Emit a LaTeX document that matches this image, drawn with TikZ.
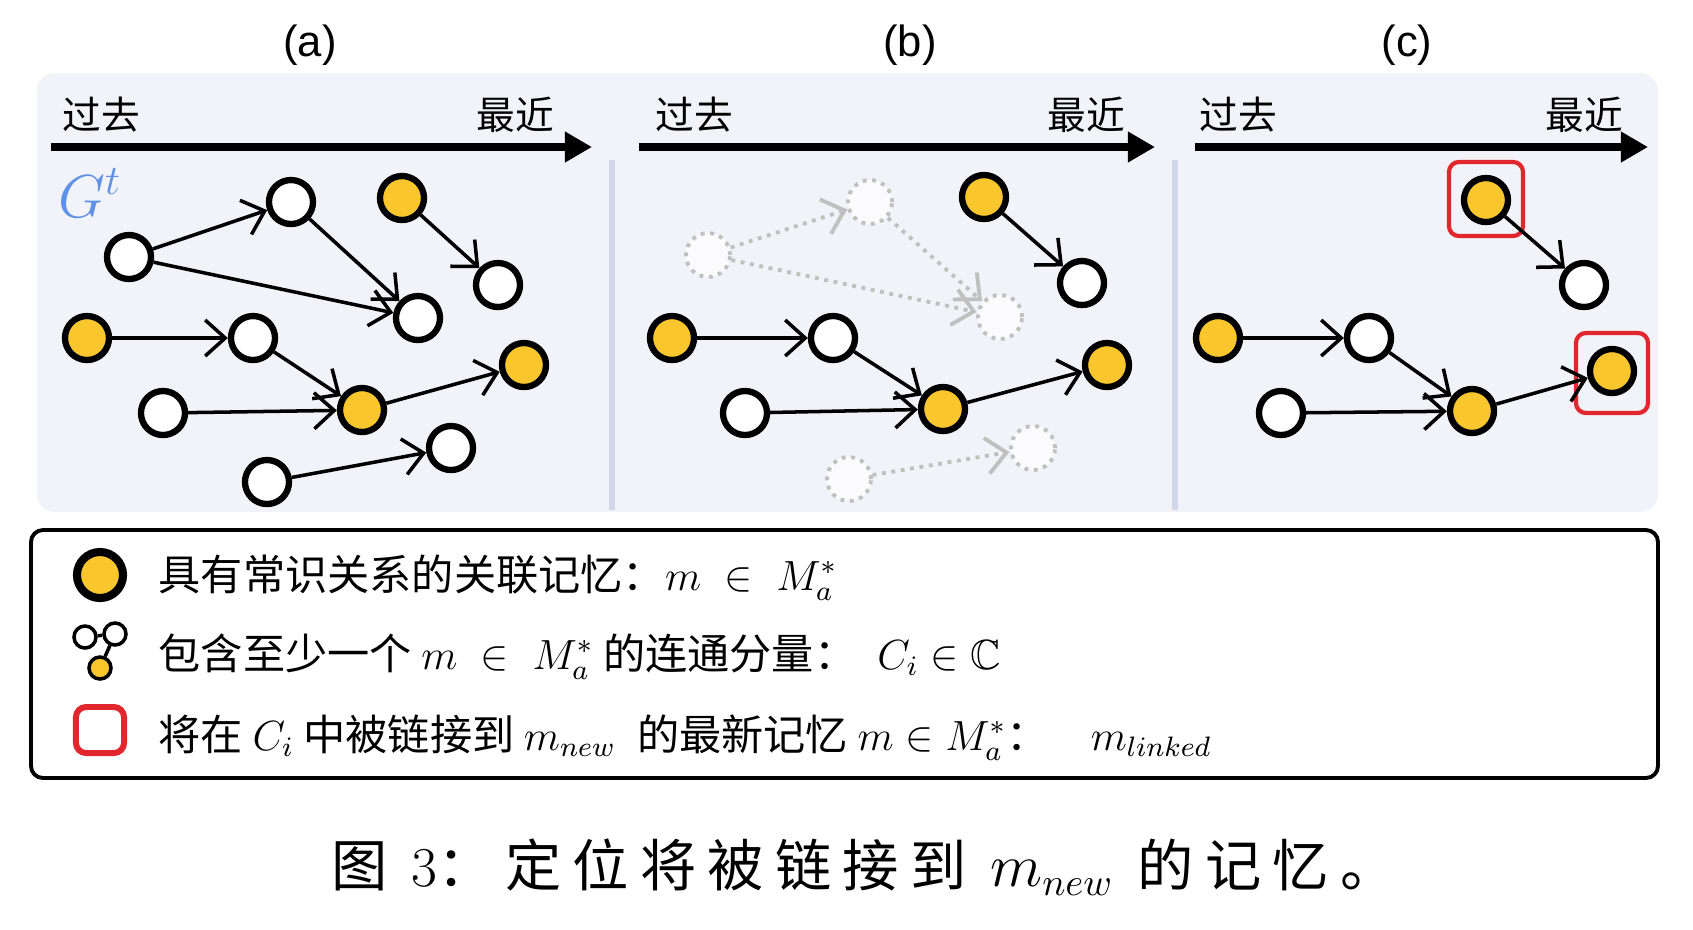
\documentclass[tikz,border=0pt]{standalone}
\usepackage{amssymb}
\usepackage{fontspec}
\usetikzlibrary{arrows.meta}

\newfontfamily\cjk{Noto Sans CJK SC}
\newfontfamily\capfont[LetterSpace=20]{Noto Sans CJK SC}
\newfontfamily\titlefont{Liberation Sans}

\definecolor{memyellow}{RGB}{250,198,46}
\definecolor{panelbg}{RGB}{241,243,248}
\definecolor{divider}{RGB}{208,215,232}
\definecolor{gblue}{RGB}{95,145,230}
\definecolor{linkred}{RGB}{225,38,45}
\definecolor{ghostgray}{RGB}{192,192,192}

\begin{document}
\begin{tikzpicture}[x=0.01cm, y=-0.01cm,
    >={Straight Barb[length=2mm, width=3.6mm]},
    mem/.style={circle, draw=black, line width=1.8pt, fill=white, minimum size=4.4mm, inner sep=0pt},
    memkey/.style={mem, fill=memyellow},
    ghost/.style={circle, draw=ghostgray, line width=1.1pt, dash pattern=on 1.1pt off 1.6pt, fill=white!70!panelbg, minimum size=4.4mm, inner sep=0pt},
    memlink/.style={->, line width=1pt},
    ghostlink/.style={->, draw=ghostgray, line width=1.1pt, dash pattern=on 1.1pt off 1.6pt},
    timeline/.style={-{Triangle[length=2.7mm, width=2.9mm]}, line width=2pt},
    timetext/.style={font=\cjk\fontsize{11pt}{13pt}\selectfont, anchor=base, inner sep=0pt},
    linkbox/.style={draw=linkred, line width=1.2pt, rounded corners=1mm, minimum width=7.4mm, minimum height=7.4mm, inner sep=0pt},
    legtext/.style={font=\cjk\fontsize{12pt}{15pt}\selectfont, anchor=base west, inner sep=0pt}]

    \useasboundingbox (0,0) rectangle (1693,929);
    \fill[white] (0,0) rectangle (1693,929);

    % --- 1. 背景と区切り線 ---
    \fill[panelbg, rounded corners=1.8mm] (37,73) rectangle (1658,512);
    \draw[divider, line width=1.6pt] (612,160) -- (612,510);
    \draw[divider, line width=1.6pt] (1175,160) -- (1175,510);

    % 小見出し (a) (b) (c)
    \node[anchor=base, font=\titlefont\fontsize{12.4pt}{14pt}\selectfont] (titleA) at (310,56) {(a)};
    \node[anchor=base, font=\titlefont\fontsize{12.4pt}{14pt}\selectfont] (titleB) at (910,56) {(b)};
    \node[anchor=base, font=\titlefont\fontsize{12.4pt}{14pt}\selectfont] (titleC) at (1407,56) {(c)};

    % --- 2. 時間軸 ---
    \coordinate (tA0) at (51,147);   \coordinate (tA1) at (592,147);
    \coordinate (tB0) at (639,147);  \coordinate (tB1) at (1155,147);
    \coordinate (tC0) at (1195,147); \coordinate (tC1) at (1648,147);
    \draw[timeline] (tA0) -- (tA1);
    \draw[timeline] (tB0) -- (tB1);
    \draw[timeline] (tC0) -- (tC1);

    \node[timetext] (pastA) at (101,129) {过去};
    \node[timetext] (recentA) at (515,129) {最近};
    \node[timetext] (pastB) at (694,129) {过去};
    \node[timetext] (recentB) at (1086,129) {最近};
    \node[timetext] (pastC) at (1238,129) {过去};
    \node[timetext] (recentC) at (1584,129) {最近};

    % --- 3. (a) 記憶グラフ G^t ---
    \node[text=gblue, font=\fontsize{16.5pt}{18pt}\selectfont] (gt) at (90,193) {$G^t$};

    \node[mem]    (a1)  at (129,257) {};
    \node[mem]    (a2)  at (291,202) {};
    \node[memkey] (a3)  at (402,198) {};
    \node[mem]    (a4)  at (498,285) {};
    \node[mem]    (a5)  at (418,318) {};
    \node[memkey] (a6)  at (87,338)  {};
    \node[mem]    (a7)  at (253,338) {};
    \node[mem]    (a8)  at (163,413) {};
    \node[memkey] (a9)  at (362,410) {};
    \node[memkey] (a10) at (524,365) {};
    \node[mem]    (a11) at (451,448) {};
    \node[mem]    (a12) at (267,482) {};

    \draw[memlink] (a1) -- (a2);
    \draw[memlink] (a1) -- (a5);
    \draw[memlink] (a2) -- (a5);
    \draw[memlink] (a3) -- (a4);
    \draw[memlink] (a6) -- (a7);
    \draw[memlink] (a7) -- (a9);
    \draw[memlink] (a8) -- (a9);
    \draw[memlink] (a9) -- (a10);
    \draw[memlink] (a12) -- (a11);

    % --- 4. (b) M_a^* を含む連結成分だけ残す ---
    \node[ghost]  (b1)  at (708,255)  {};
    \node[ghost]  (b2)  at (870,202)  {};
    \node[memkey] (b3)  at (984,197)  {};
    \node[mem]    (b4)  at (1082,283) {};
    \node[ghost]  (b5)  at (1000,317) {};
    \node[memkey] (b6)  at (672,338)  {};
    \node[mem]    (b7)  at (833,338)  {};
    \node[mem]    (b8)  at (745,413)  {};
    \node[memkey] (b9)  at (943,409)  {};
    \node[memkey] (b10) at (1107,365) {};
    \node[ghost]  (b11) at (1033,448) {};
    \node[ghost]  (b12) at (849,479)  {};

    \draw[ghostlink] (b1) -- (b2);
    \draw[ghostlink] (b1) -- (b5);
    \draw[ghostlink] (b2) -- (b5);
    \draw[ghostlink] (b12) -- (b11);
    \draw[memlink] (b3) -- (b4);
    \draw[memlink] (b6) -- (b7);
    \draw[memlink] (b7) -- (b9);
    \draw[memlink] (b8) -- (b9);
    \draw[memlink] (b9) -- (b10);

    % --- 5. (c) 各成分の最新の M_a^* ---
    \node[linkbox] (boxC3) at (1486,199) {};
    \node[linkbox, minimum width=7.2mm, minimum height=8mm] (boxC10) at (1612,373) {};

    \node[memkey] (c3)  at (1486,200) {};
    \node[mem]    (c4)  at (1584,285) {};
    \node[memkey] (c6)  at (1218,338) {};
    \node[mem]    (c7)  at (1369,338) {};
    \node[mem]    (c8)  at (1281,413) {};
    \node[memkey] (c9)  at (1472,411) {};
    \node[memkey] (c10) at (1612,371) {};

    \draw[memlink] (c3) -- (c4);
    \draw[memlink] (c6) -- (c7);
    \draw[memlink] (c7) -- (c9);
    \draw[memlink] (c8) -- (c9);
    \draw[memlink] (c9) -- (c10);

    % --- 6. 凡例 ---
    \draw[line width=1.1pt, rounded corners=1.2mm, fill=white] (31,530) rectangle (1658,778);

    \node[memkey, minimum size=4.6mm, line width=2.3pt] (legKey) at (100,575) {};
    \node[mem, minimum size=2.2mm, line width=1pt] (legA) at (85,637) {};
    \node[mem, minimum size=2.2mm, line width=1pt] (legB) at (115,634) {};
    \node[memkey, minimum size=2.2mm, line width=1pt] (legC) at (100,668) {};
    \draw[line width=1pt] (legA) -- (legB) -- (legC);
    \node[linkbox, minimum width=4.8mm, minimum height=4.6mm, line width=1.7pt] (legBox) at (100,730) {};

    \node[legtext] (legTextA) at (158,590) {具有常识关系的关联记忆：$m\;\in\;M_a^*$};
    \node[legtext] (legTextB) at (158,669) {包含至少一个 $m\;\in\;M_a^*$ 的连通分量：\enspace$C_i\in\mathbb{C}$};
    \node[legtext] (legTextC) at (158,750) {将在 $C_i$ 中被链接到 $m_{new}$\enspace 的最新记忆 $m\in M_a^*$：\quad$m_{linked}$};

    % --- 7. 図のキャプション ---
    \node[anchor=base, inner sep=0pt, font=\capfont\fontsize{16pt}{19pt}\selectfont] (caption) at (864,886)
    {图 {\rmfamily 3}：定位将被链接到 $m_{new}$ 的记忆。};

  \end{tikzpicture}
\end{document}
